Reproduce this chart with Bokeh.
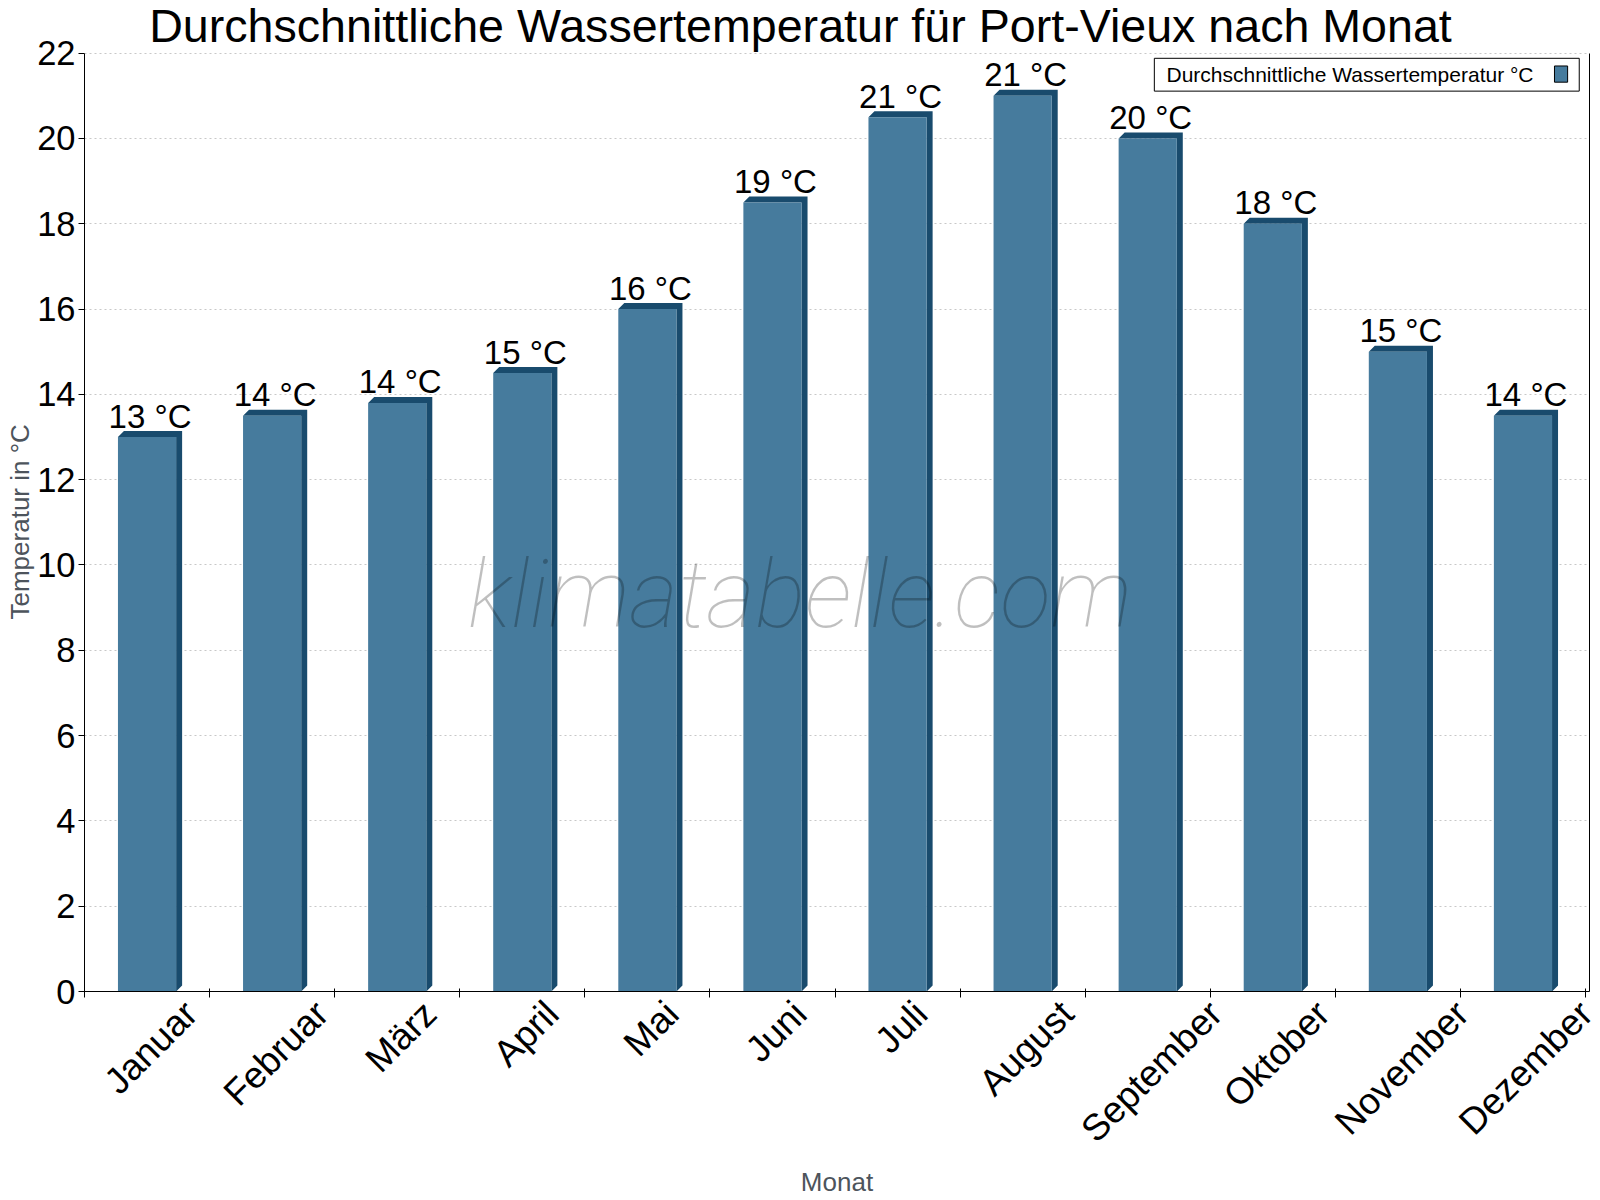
import math
from bokeh.plotting import figure
from bokeh.models import (ColumnDataSource, Range1d, FixedTicker, Label,
                          BoxAnnotation, LinearAxis, Title)
from bokeh.core.properties import value
from bokeh.embed import file_html
from bokeh.resources import INLINE

# ---------------- data ----------------
months = ["Januar", "Februar", "März", "April", "Mai", "Juni", "Juli",
          "August", "September", "Oktober", "November", "Dezember"]
water_temp = [13.0, 13.5, 13.8, 14.5, 16.0, 18.5, 20.5, 21.0, 20.0, 18.0, 15.0, 13.5]
y_ticks = [0, 2, 4, 6, 8, 10, 12, 14, 16, 18, 20, 22]
title_text = "Durchschnittliche Wassertemperatur für Port-Vieux nach Monat"
legend_text = "Durchschnittliche Wassertemperatur °C"
y_label = "Temperatur in °C"
x_label = "Monat"
watermark = "klimatabelle.com"

# ---------------- style ----------------
FONT = "Liberation Sans"
FRONT = "#467b9d"
SIDE = "#194b6d"
AXIS_LABEL_COLOR = "#4d545c"
W, H = 1600, 1200
BORDER_L, BORDER_B = 84, 203
PLOT_RIGHT = 1585          # pixel where the last category ends
TOP_PAD = 53               # room inside the frame above the top tick (title)
n = len(months)
y_max = y_ticks[-1]
frame_bottom = H - BORDER_B
px_x = (PLOT_RIGHT - BORDER_L) / n
px_y = (frame_bottom - TOP_PAD) / y_max
BORDER_R = 11
x_end = (W - BORDER_R - BORDER_L) / px_x
y_top = y_max + TOP_PAD / px_y
depth = 6
dx = depth / px_x
dy = depth / px_y
bar_w = 0.465
XLAB_SIZE = 37

# Arial / Liberation Sans advance widths (per 1000 em), used to place the
# rotated month labels the way the reference does (centred on the category)
ADV = {'J': 500, 'a': 556, 'n': 556, 'u': 556, 'r': 333, 'F': 611, 'e': 556,
       'b': 556, 'M': 833, 'ä': 556, 'z': 500, 'A': 667, 'p': 556, 'i': 222,
       'l': 222, 'S': 667, 't': 278, 'm': 833, 'O': 778, 'k': 500, 'o': 556,
       'N': 722, 'v': 500, 'D': 722, 'g': 556, 's': 500}


def text_len(s, size):
    return sum(ADV.get(c, 556) for c in s) * size / 1000.0


xs_center = [i + 0.5 for i in range(n)]
labels = [f"{int(math.floor(v + 0.5))} °C" for v in water_temp]

side_xs, side_ys = [], []
for xc, v in zip(xs_center, water_temp):
    xl, xr = xc - bar_w / 2, xc + bar_w / 2
    side_xs.append([xl, xl + dx, xr + dx, xr + dx, xr, xr])
    side_ys.append([v, v + dy, v + dy, dy, 0, v])

# label anchor (end of the rotated text) shifted right by half the rotated length
label_ticks = [xc + (3.8 + 0.354 * text_len(m, XLAB_SIZE)) / px_x
               for xc, m in zip(xs_center, months)]

src = ColumnDataSource(dict(x=xs_center, top=water_temp, label=labels))
side_src = ColumnDataSource(dict(xs=side_xs, ys=side_ys))

p = figure(width=W, height=H, x_range=Range1d(0, x_end), y_range=Range1d(0, y_top),
           output_backend="svg", toolbar_location=None,
           min_border_left=BORDER_L, min_border_right=BORDER_R,
           min_border_top=0, min_border_bottom=BORDER_B)
p.outline_line_color = None
p.background_fill_color = "white"
p.border_fill_color = "white"

# grid
p.xgrid.visible = False
p.ygrid.ticker = FixedTicker(ticks=y_ticks)
p.ygrid.grid_line_color = "#c8c8c8"
p.ygrid.grid_line_dash = "2 3"
p.ygrid.grid_line_width = 1

# y axis
ya = p.yaxis[0]
ya.ticker = FixedTicker(ticks=y_ticks)
ya.bounds = (y_ticks[0], y_ticks[-1])
ya.axis_line_color = "black"
ya.major_tick_line_color = "black"
ya.major_tick_out = 6
ya.major_tick_in = 0
ya.minor_tick_out = 0
ya.minor_tick_in = 0
ya.major_label_standoff = 3
ya.major_label_text_font = FONT
ya.major_label_text_font_size = "34.5px"
ya.major_label_text_color = "black"

# y axis title, centred on the 0..22 span (not on the padded frame)
p.add_layout(Title(text=y_label, align="left", offset=372, standoff=0,
                   text_font=FONT, text_font_size="26px",
                   text_font_style="normal", text_color=AXIS_LABEL_COLOR), "left")

# x axis: boundary ticks, rotated month labels
xa = p.xaxis[0]
xa.ticker = FixedTicker(ticks=label_ticks, minor_ticks=list(range(n + 1)))
xa.major_label_overrides = {t: m for t, m in zip(label_ticks, months)}
xa.axis_line_color = "black"
xa.major_tick_out = 0
xa.major_tick_in = 0
xa.minor_tick_line_color = "black"
xa.minor_tick_out = 6
xa.minor_tick_in = 3
xa.major_label_orientation = math.pi / 4
xa.major_label_standoff = 10
xa.major_label_text_font = FONT
xa.major_label_text_font_size = f"{XLAB_SIZE}px"
xa.major_label_text_color = "black"
xa.axis_label = x_label
xa.axis_label_text_font = FONT
xa.axis_label_text_font_size = "26px"
xa.axis_label_text_font_style = "normal"
xa.axis_label_text_color = AXIS_LABEL_COLOR
xa.axis_label_standoff = 0

# right border line (bounded like the left axis)
ra = LinearAxis(ticker=FixedTicker(ticks=[]), bounds=(y_ticks[0], y_ticks[-1]),
                axis_line_color="black", major_tick_out=0, major_tick_in=0,
                minor_tick_out=0, minor_tick_in=0, major_label_standoff=0)
p.add_layout(ra, "right")

# bars (3D look)
p.patches("xs", "ys", source=side_src, fill_color=SIDE, line_color=None)
p.vbar(x="x", top="top", bottom=0, width=bar_w, source=src,
       fill_color=FRONT, line_color=None)
p.text(x="x", y="top", text="label", source=src, text_align="center",
       text_baseline="middle", x_offset=3, y_offset=-21,
       text_font=value(FONT), text_font_size="33px", text_color="black")

# watermark
p.add_layout(Label(x=5.72, y=9.30, text=watermark, text_align="center",
                   text_baseline="middle", text_font="Roboto Thin",
                   text_font_style="italic", text_font_size="94px",
                   text_color="black", text_alpha=0.25))

# title (inside the padded top of the frame)
p.add_layout(Label(x=(800 - BORDER_L) / px_x, y=(frame_bottom - 25.5) / px_y,
                   text=title_text, text_align="center", text_baseline="middle",
                   text_font=FONT, text_font_size="46.6px", text_color="black"))

# legend (text left, swatch right)
p.add_layout(BoxAnnotation(left=8.553, right=11.95, bottom=21.11, top=21.88,
                           fill_color="white", fill_alpha=1.0,
                           line_color="black", line_alpha=1.0, line_width=1))
p.add_layout(Label(x=8.65, y=21.495, text=legend_text, text_align="left",
                   text_baseline="middle", text_font=FONT,
                   text_font_size="21px", text_color="black"))
p.add_layout(BoxAnnotation(left=11.752, right=11.857, bottom=21.32, top=21.70,
                           fill_color=FRONT, fill_alpha=1.0,
                           line_color="black", line_alpha=1.0, line_width=1))

open("out.html", "w").write(file_html(p, INLINE))
